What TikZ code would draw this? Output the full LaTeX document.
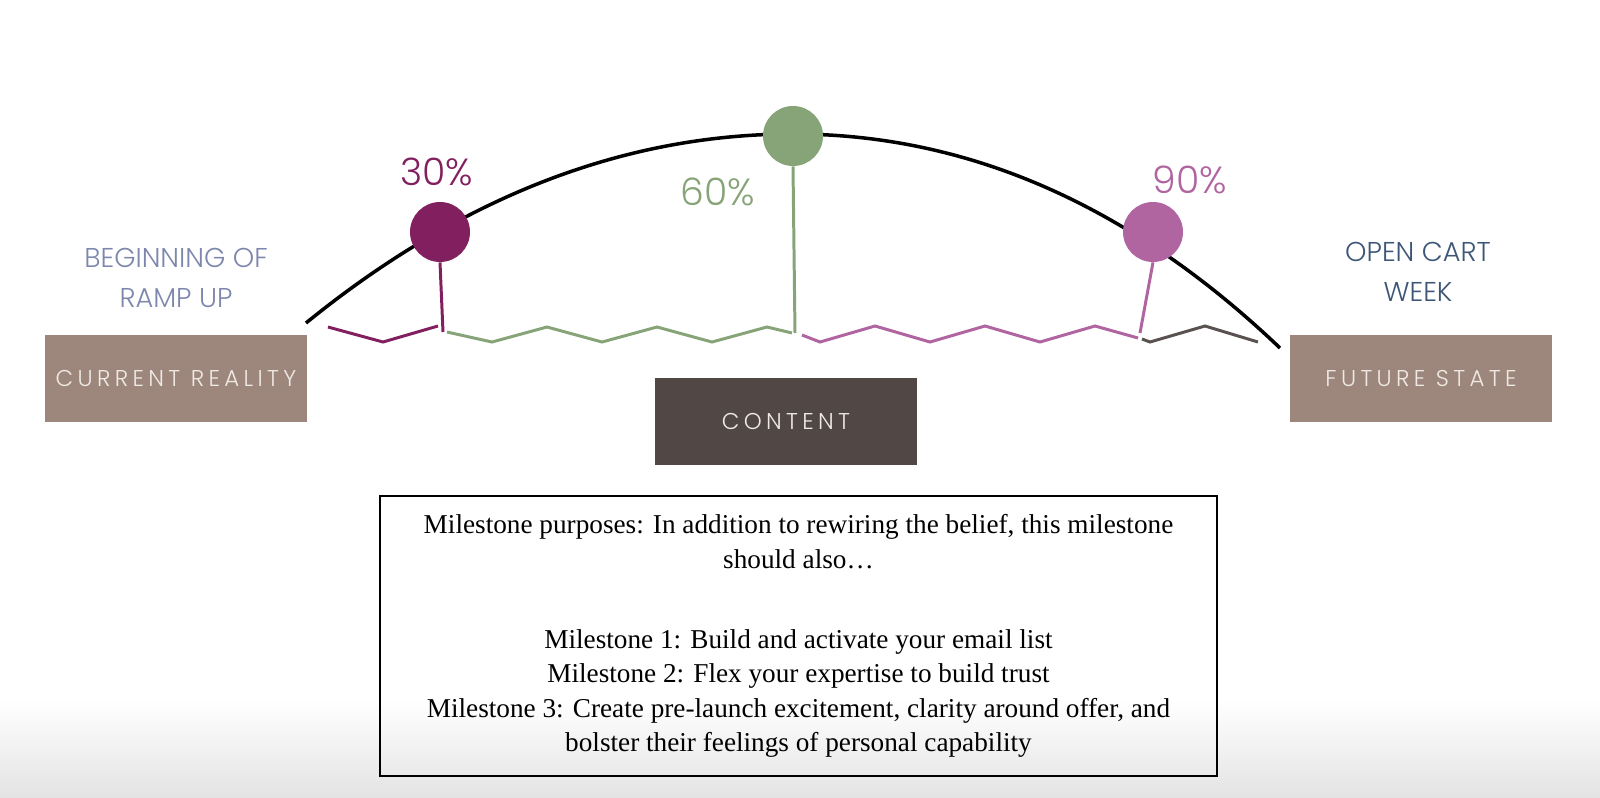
\documentclass[tikz,border=0pt]{standalone}
\usepackage{fontspec}
\setmainfont{Liberation Serif}
\IfFontExistsTF{Poppins Light}
  {\newfontfamily\labelfont{Poppins Light}\newfontfamily\boxfont[LetterSpace=19]{Poppins Light}}
  {\newfontfamily\labelfont{Poppins}\newfontfamily\boxfont[LetterSpace=19]{Poppins}}
\usepackage{xcolor}
\definecolor{milOne}{RGB}{130,32,95}
\definecolor{milTwo}{RGB}{135,164,121}
\definecolor{milThree}{RGB}{176,100,160}
\definecolor{zigGray}{RGB}{90,82,80}
\definecolor{rampBlue}{RGB}{125,135,173}
\definecolor{cartBlue}{RGB}{61,86,119}
\definecolor{taupe}{RGB}{157,135,125}
\definecolor{cocoa}{RGB}{81,72,69}
\definecolor{cream}{RGB}{240,234,228}
\usetikzlibrary{positioning}

\tikzset{
  statebox/.style={fill=taupe, minimum width=5.24cm, minimum height=1.74cm, inner sep=0pt,
    text=cream, font=\boxfont\fontsize{13}{15}\selectfont},
  milestone/.style={circle, minimum size=1.2cm, inner sep=0pt},
  pct/.style={font=\labelfont\fontsize{21.5}{24}\selectfont},
  phase/.style={align=center, font=\labelfont\fontsize{15.5}{22.8}\selectfont},
  stem/.style={line width=1.7pt},
  zig/.style={line width=1.7pt, line join=miter},
}

\begin{document}
\begin{tikzpicture}[x=0.02cm, y=-0.02cm]
  \useasboundingbox (0,0) rectangle (1600,798);
  % faded bottom of the slide
  \shade[top color=white, bottom color=black!11] (0,700) rectangle (1600,798);

  % Arc from current reality to future state
  \draw[line width=2pt] (306,323) .. controls (461,197) and (624,134) .. (793,134)
    .. controls (968,134) and (1130,205) .. (1280,348);

  % End points of the stems
  \coordinate (s1) at (443,332);
  \coordinate (s2) at (795,333);
  \coordinate (s3) at (1140,333);

  % Zig-zag path
  \draw[zig, milOne] (328,327) -- (383,342) -- (438,326);
  \draw[zig, milTwo] (447,332) foreach \x in {492,602,712} { -- (\x,342) -- (\x+55,327) } -- (792,333);
  \draw[zig, milThree] (802,335) foreach \x in {820,930,1040} { -- (\x,342) -- (\x+55,326) } -- (1138,338);
  \draw[zig, zigGray] (1142,339) -- (1150,342) -- (1205,326) -- (1258,342);

  % Milestones
  \node[milestone, fill=milOne] (m1) at (440,232) {};
  \node[milestone, fill=milTwo] (m2) at (793,136) {};
  \node[milestone, fill=milThree] (m3) at (1153,232) {};
  \draw[stem, milOne] (m1.south) -- (s1);
  \draw[stem, milTwo] (m2.south) -- (s2);
  \draw[stem, milThree] (m3.south) -- (s3);
  \node[pct, text=milOne] (p1) at (437,172) {30\%};
  \node[pct, text=milTwo] (p2) at (718,192) {60\%};
  \node[pct, text=milThree] (p3) at (1190,180) {90\%};

  % Boxes
  \node[statebox] (current) at (176,378.5) {CURRENT REALITY};
  \node[statebox] (future) at (1421,378.5) {FUTURE STATE};
  \node[statebox, fill=cocoa] (content) at (786,421.5) {CONTENT};
  \node[phase, text=rampBlue] (ramp) at (176,278) {BEGINNING OF\\RAMP UP};
  \node[phase, text=cartBlue] (cart) at (1418,272) {OPEN CART\\WEEK};

  % Milestone purposes
  \node[draw, line width=1.6pt, minimum width=16.74cm, minimum height=5.6cm, align=center,
    font=\fontsize{15.5}{19.6}\selectfont] (purpose) at (798.5,636)
    {Milestone purposes: In addition to rewiring the belief, this milestone\\
     should also…\\[26pt]
     Milestone 1: Build and activate your email list\\
     Milestone 2: Flex your expertise to build trust\\
     Milestone 3: Create pre-launch excitement, clarity around offer, and\\
     bolster their feelings of personal capability};
\end{tikzpicture}
\end{document}
